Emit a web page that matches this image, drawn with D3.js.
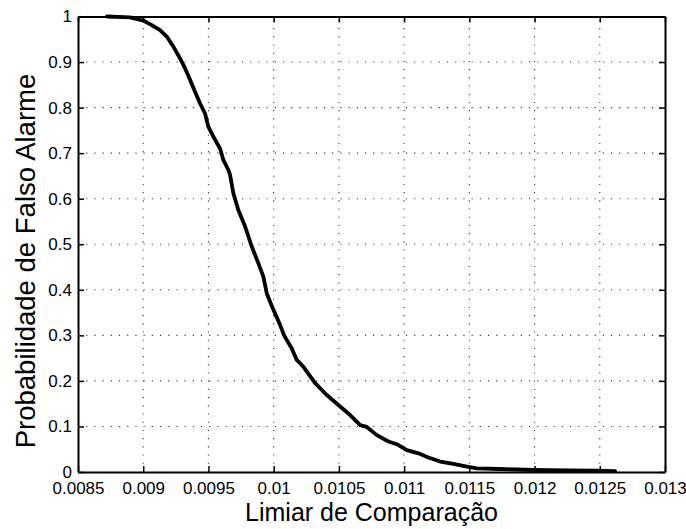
<!DOCTYPE html>
<html>
<head>
<meta charset="utf-8">
<script src="https://cdn.jsdelivr.net/npm/d3@7"></script>
<style>
  html, body { margin: 0; padding: 0; background: #fff; }
  svg { display: block; font-family: "Liberation Sans", Arial, Helvetica, sans-serif; }
</style>
</head>
<body>
<svg id="chart" width="686" height="529"></svg>
<script>
// Threshold sweep vs. false-alarm probability
const thresholds = [
  0.008722, 0.008899, 0.009001, 0.009065, 0.009129, 0.009180, 0.009231, 0.009282,
  0.009321, 0.009359, 0.009397, 0.009436, 0.009474, 0.009499, 0.009538, 0.009589,
  0.009614, 0.009653, 0.009666, 0.009691, 0.009729, 0.009781, 0.009832, 0.009883,
  0.009921, 0.009947, 0.009998, 0.010049, 0.010080, 0.010139, 0.010177, 0.010228,
  0.010318, 0.010407, 0.010496, 0.010586, 0.010663, 0.010714, 0.010791, 0.010880,
  0.010944, 0.011021, 0.011110, 0.011186, 0.011276, 0.011378, 0.011481, 0.011558,
  0.011736, 0.011989, 0.012250, 0.012480, 0.012618
];
const falseAlarm = [
  1.000, 0.998, 0.991, 0.981, 0.970, 0.956, 0.934, 0.908,
  0.886, 0.861, 0.835, 0.809, 0.787, 0.758, 0.736, 0.710,
  0.685, 0.663, 0.652, 0.612, 0.575, 0.539, 0.495, 0.458,
  0.429, 0.392, 0.356, 0.323, 0.300, 0.271, 0.246, 0.231,
  0.195, 0.169, 0.147, 0.125, 0.103, 0.099, 0.081, 0.067,
  0.061, 0.048, 0.041, 0.032, 0.023, 0.018, 0.012, 0.008,
  0.0066, 0.0044, 0.0037, 0.0030, 0.0020
];

const xTickValues = [0.0085, 0.009, 0.0095, 0.01, 0.0105, 0.011, 0.0115, 0.012, 0.0125, 0.013];
const xTickLabels = ["0.0085", "0.009", "0.0095", "0.01", "0.0105", "0.011", "0.0115", "0.012", "0.0125", "0.013"];
const yTickValues = [0, 0.1, 0.2, 0.3, 0.4, 0.5, 0.6, 0.7, 0.8, 0.9, 1];
const yTickLabels = ["0", "0.1", "0.2", "0.3", "0.4", "0.5", "0.6", "0.7", "0.8", "0.9", "1"];

const xLabel = "Limiar de Comparação";
const yLabel = "Probabilidade de Falso Alarme";

const svg = d3.select("#chart");
const plotL = 78, plotT = 16.5, plotR = 665, plotB = 472;

const x = d3.scaleLinear().domain([0.0085, 0.013]).range([plotL, plotR]);
const y = d3.scaleLinear().domain([0, 1]).range([plotB, plotT]);

// dotted grid
const grid = svg.append("g").attr("stroke", "#333").attr("stroke-width", 1.1)
  .attr("stroke-dasharray", "1.1,7.1");
grid.selectAll("line.gx").data(xTickValues.slice(1, -1)).join("line")
  .attr("x1", d => x(d)).attr("x2", d => x(d))
  .attr("y1", plotB).attr("y2", plotT);
grid.selectAll("line.gy").data(yTickValues.slice(1, -1)).join("line")
  .attr("y1", d => y(d)).attr("y2", d => y(d))
  .attr("x1", plotL).attr("x2", plotR);

// axes with inward ticks on all four sides
const tickLen = 6;
const fmtX = (d, i) => xTickLabels[i];
const fmtY = (d, i) => yTickLabels[i];

const axB = svg.append("g").attr("transform", `translate(0,${plotB})`)
  .call(d3.axisBottom(x).tickValues(xTickValues).tickFormat(fmtX).tickSizeInner(-tickLen).tickSizeOuter(0).tickPadding(10));
const axT = svg.append("g").attr("transform", `translate(0,${plotT})`)
  .call(d3.axisTop(x).tickValues(xTickValues).tickFormat("").tickSizeInner(-tickLen).tickSizeOuter(0));
const axL = svg.append("g").attr("transform", `translate(${plotL},0)`)
  .call(d3.axisLeft(y).tickValues(yTickValues).tickFormat(fmtY).tickSizeInner(-tickLen).tickSizeOuter(0).tickPadding(6));
const axR = svg.append("g").attr("transform", `translate(${plotR},0)`)
  .call(d3.axisRight(y).tickValues(yTickValues).tickFormat("").tickSizeInner(-tickLen).tickSizeOuter(0));

[axB, axT, axL, axR].forEach(g => {
  g.selectAll("path.domain").attr("stroke", "#000").attr("stroke-width", 2);
  g.selectAll(".tick line").attr("stroke", "#000").attr("stroke-width", 1.5);
  g.selectAll(".tick text").attr("fill", "#000").style("font-size", "17px")
    .style("font-family", "'Liberation Sans', Arial, sans-serif");
});

// curve
const line = d3.line().x(d => x(d[0])).y(d => y(d[1]));
svg.append("path")
  .datum(thresholds.map((t, i) => [t, falseAlarm[i]]))
  .attr("d", line)
  .attr("fill", "none").attr("stroke", "#000").attr("stroke-width", 3.8)
  .attr("stroke-linejoin", "round").attr("stroke-linecap", "round");

// axis titles
svg.append("text").attr("x", (plotL + plotR) / 2).attr("y", 521)
  .attr("text-anchor", "middle").style("font-size", "25px").text(xLabel);
svg.append("text").attr("transform", "translate(35,261) rotate(-90)")
  .attr("text-anchor", "middle").style("font-size", "27.5px").text(yLabel);
</script>
</body>
</html>
